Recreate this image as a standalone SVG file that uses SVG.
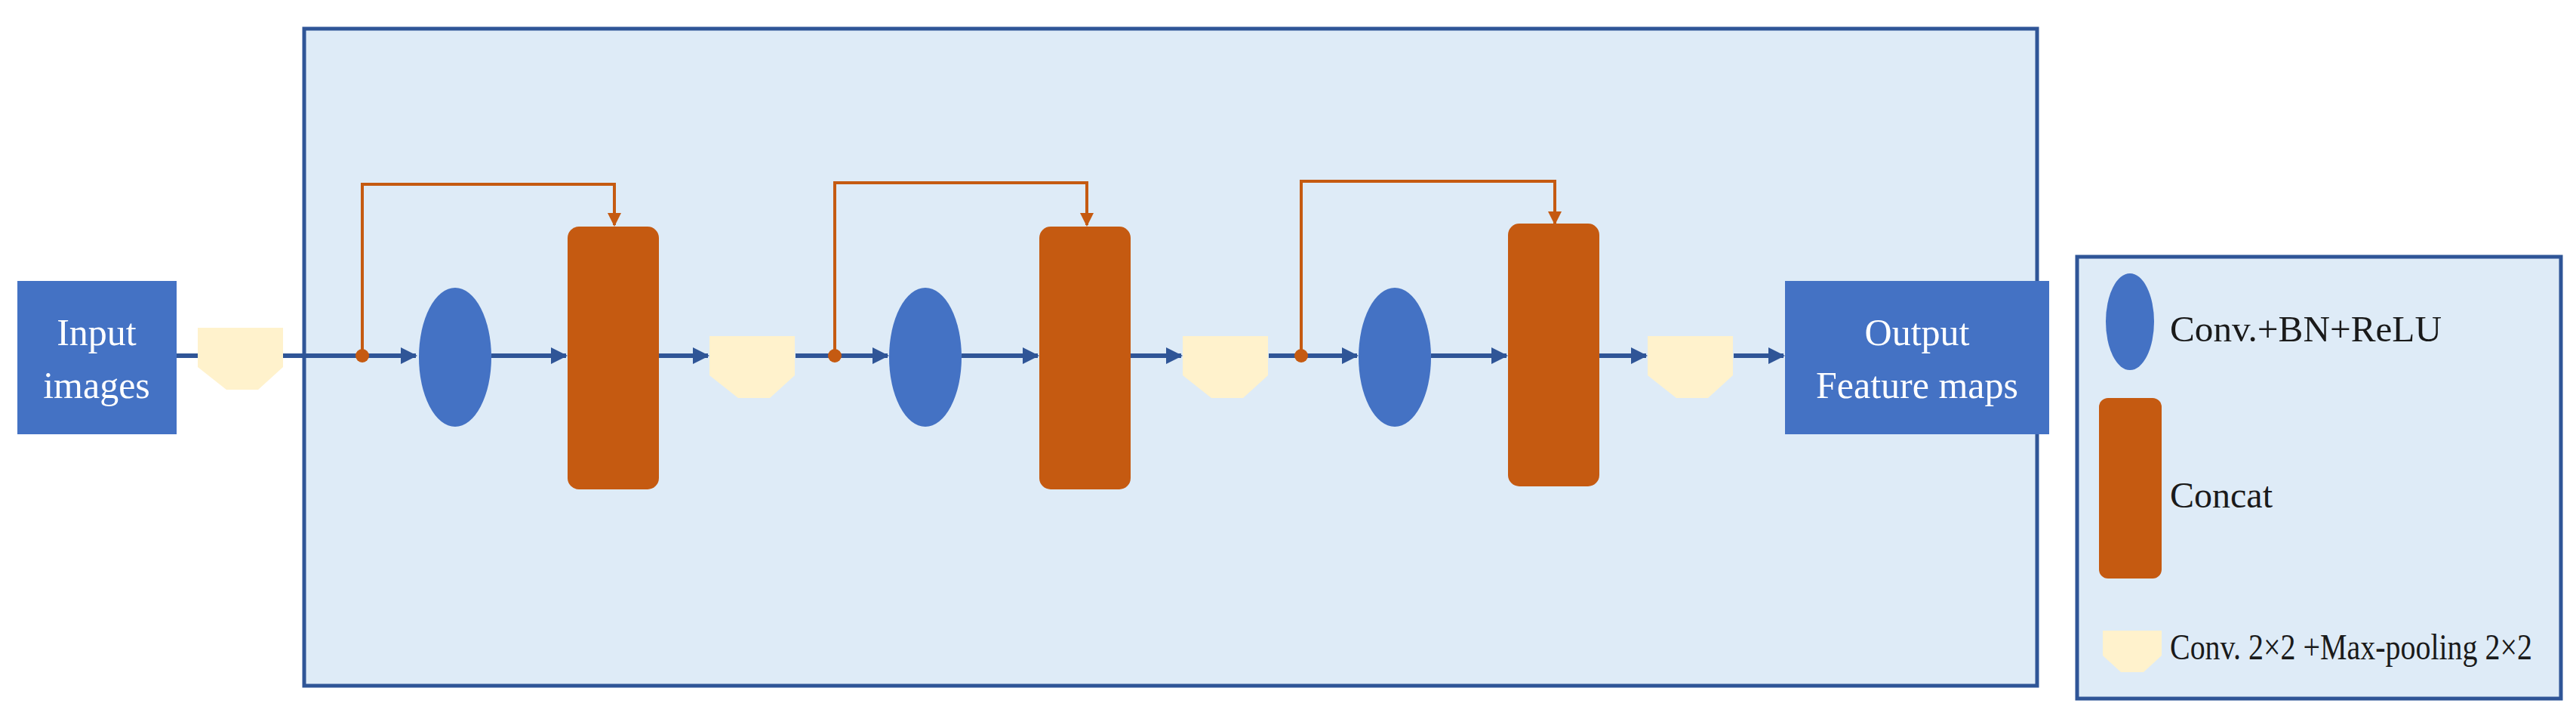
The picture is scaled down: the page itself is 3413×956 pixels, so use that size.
<svg xmlns="http://www.w3.org/2000/svg" width="3413" height="956" viewBox="0 0 3413 956">
<defs>
<style>
.bl{stroke:#2F5597;stroke-width:6;fill:none}
.or{stroke:#C55A11;stroke-width:4;fill:none}
.blue{fill:#4472C4}
.cc{fill:#C55A11}
.pool{fill:#FFF2CC}
.wt{font-family:"Liberation Serif",serif;font-size:50px;fill:#fff;text-anchor:middle}
.lt{font-family:"Liberation Serif",serif;font-size:48px;fill:#1a1a1a}
</style>
<marker id="ab" markerUnits="userSpaceOnUse" markerWidth="22" markerHeight="22" refX="20" refY="11" orient="auto"><path d="M0,0 L22,11 L0,22 Z" fill="#2F5597"/></marker>
<marker id="ao" markerUnits="userSpaceOnUse" markerWidth="18" markerHeight="18" refX="16" refY="9" orient="auto"><path d="M0,0 L18,9 L0,18 Z" fill="#C55A11"/></marker>
<path id="pl" d="M0,0 H113 V52 L80,82 H38 L0,52 Z"/>
</defs>
<rect x="403" y="38" width="2296" height="870" fill="#DEEBF7" stroke="#2F5597" stroke-width="5"/>
<rect x="2752" y="340" width="641" height="585" fill="#DEEBF7" stroke="#2F5597" stroke-width="5"/>
<g id="connectors">
<line class="bl" x1="234" y1="471" x2="262" y2="471"/>
<line class="bl" x1="375" y1="471" x2="551" y2="471" marker-end="url(#ab)"/>
<line class="bl" x1="651" y1="471" x2="750" y2="471" marker-end="url(#ab)"/>
<line class="bl" x1="873" y1="471" x2="938" y2="471" marker-end="url(#ab)"/>
<line class="bl" x1="1054" y1="471" x2="1176" y2="471" marker-end="url(#ab)"/>
<line class="bl" x1="1274" y1="471" x2="1375" y2="471" marker-end="url(#ab)"/>
<line class="bl" x1="1496" y1="471" x2="1565" y2="471" marker-end="url(#ab)"/>
<line class="bl" x1="1681" y1="471" x2="1798" y2="471" marker-end="url(#ab)"/>
<line class="bl" x1="1896" y1="471" x2="1996" y2="471" marker-end="url(#ab)"/>
<line class="bl" x1="2119" y1="471" x2="2181" y2="471" marker-end="url(#ab)"/>
<line class="bl" x1="2297" y1="471" x2="2363" y2="471" marker-end="url(#ab)"/>
<path class="or" d="M480,471 V244 H814 V298" marker-end="url(#ao)"/>
<path class="or" d="M1106,471 V242 H1440 V298" marker-end="url(#ao)"/>
<path class="or" d="M1724,471 V240 H2060 V296" marker-end="url(#ao)"/>
<circle cx="480" cy="471" r="9" fill="#C55A11"/>
<circle cx="1106" cy="471" r="9" fill="#C55A11"/>
<circle cx="1724" cy="471" r="9" fill="#C55A11"/>
</g>
<g id="input"><rect class="blue" x="23" y="372" width="211" height="203"/><text class="wt" x="128" y="457">Input</text><text class="wt" x="128" y="527">images</text></g>
<g id="pool0"><use href="#pl" class="pool" x="262" y="434"/></g>
<g id="conv1"><ellipse class="blue" cx="603" cy="473" rx="48" ry="92"/></g>
<g id="concat1"><rect class="cc" x="752" y="300" width="121" height="348" rx="15"/></g>
<g id="pool1"><use href="#pl" class="pool" x="940" y="445"/></g>
<g id="conv2"><ellipse class="blue" cx="1226" cy="473" rx="48" ry="92"/></g>
<g id="concat2"><rect class="cc" x="1377" y="300" width="121" height="348" rx="15"/></g>
<g id="pool2"><use href="#pl" class="pool" x="1567" y="445"/></g>
<g id="conv3"><ellipse class="blue" cx="1848" cy="473" rx="48" ry="92"/></g>
<g id="concat3"><rect class="cc" x="1998" y="296" width="121" height="348" rx="15"/></g>
<g id="pool3"><use href="#pl" class="pool" x="2183" y="445"/></g>
<g id="output"><rect class="blue" x="2365" y="372" width="350" height="203"/><text class="wt" x="2540" y="457">Output</text><text class="wt" x="2540" y="527">Feature maps</text></g>
<g id="legend">
<ellipse class="blue" cx="2822" cy="426" rx="32" ry="64"/>
<text class="lt" x="2875" y="452" textLength="360" lengthAdjust="spacingAndGlyphs">Conv.+BN+ReLU</text>
<rect class="cc" x="2781" y="527" width="83" height="239" rx="12"/>
<text class="lt" x="2875" y="672">Concat</text>
<path class="pool" d="M2786,835 H2864 V868 L2840,890 H2810 L2786,868 Z"/>
<text class="lt" x="2875" y="873" font-size="38" textLength="480" lengthAdjust="spacingAndGlyphs">Conv. 2×2 +Max-pooling 2×2</text>
</g>
</svg>
